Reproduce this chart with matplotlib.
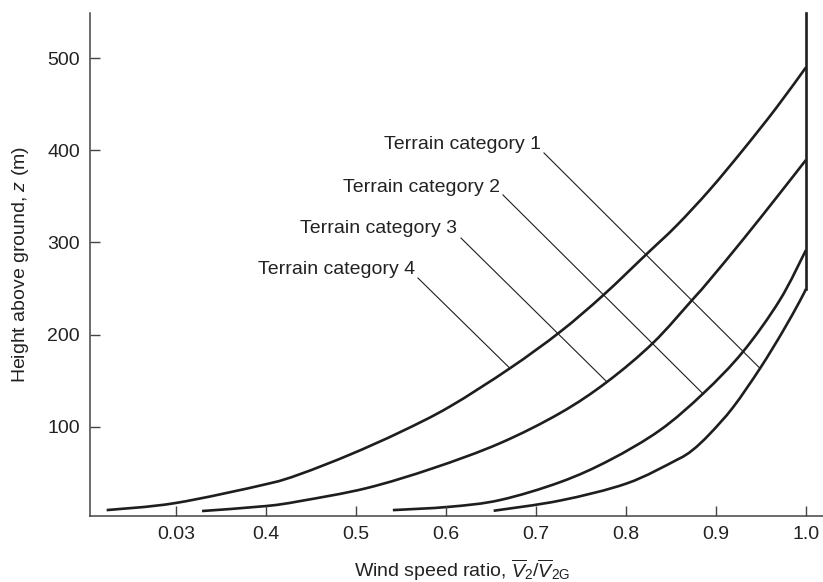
import numpy as np
import matplotlib
matplotlib.use("Agg")
import matplotlib.pyplot as plt
from matplotlib.path import Path
from matplotlib.patches import PathPatch

plt.rcParams['font.family'] = ['Liberation Sans', 'DejaVu Sans']
plt.rcParams['mathtext.fontset'] = 'custom'
plt.rcParams['mathtext.rm'] = 'Liberation Sans'
plt.rcParams['mathtext.it'] = 'Liberation Sans:italic'

# wind speed ratio (x) and height in m (z)
x_cat1 = [0.223, 0.299, 0.400, 0.438, 0.493, 0.549, 0.604, 0.671, 0.727, 0.775,
          0.823, 0.856, 0.893, 0.930, 0.967, 1.000]
z_cat1 = [9.4, 17.0, 37.5, 48.5, 69.5, 94.0, 121.6, 163.3, 203.0, 242.9,
          287.4, 318.0, 357.0, 400.3, 446.0, 490.0]

x_cat2 = [0.329, 0.400, 0.438, 0.512, 0.586, 0.660, 0.727, 0.779, 0.830, 0.874,
          0.893, 0.930, 0.968, 1.000]
z_cat2 = [8.4, 13.8, 19.2, 33.3, 55.0, 82.0, 114.8, 148.6, 190.8, 238.0,
          259.2, 303.0, 349.6, 389.5]

x_cat3 = [0.541, 0.604, 0.660, 0.727, 0.782, 0.838, 0.886, 0.930, 0.971, 1.000]
z_cat3 = [9.4, 13.0, 20.3, 39.8, 63.7, 96.3, 136.2, 181.3, 237.5, 291.7]

x_cat4 = [0.653, 0.727, 0.801, 0.856, 0.874, 0.893, 0.919, 0.949, 0.974, 0.993, 1.000]
z_cat4 = [8.7, 19.8, 38.4, 63.7, 74.6, 92.0, 121.0, 163.3, 203.0, 236.0, 249.4]

gradient_x = 1.0
z_top = 549

labels = ['Terrain category 1', 'Terrain category 2',
          'Terrain category 3', 'Terrain category 4']
label_x = [0.7056, 0.660, 0.6126, 0.5656]
label_z = [401.4, 355.1, 309.9, 265.7]
# leader lines: start (near label) -> end (on curve)
lead_x0 = [0.7089, 0.6633, 0.6167, 0.5689]
lead_z0 = [397.1, 351.5, 304.7, 261.3]
lead_x1 = [0.9489, 0.8859, 0.7786, 0.6711]
lead_z1 = [163.3, 135.4, 148.8, 163.3]

xticks = [0.3, 0.4, 0.5, 0.6, 0.7, 0.8, 0.9, 1.0]
xticklabels = ['0.03', '0.4', '0.5', '0.6', '0.7', '0.8', '0.9', '1.0']
yticks = [100, 200, 300, 400, 500]


def smooth_path(xs, zs):
    # catmull-rom through the read points, drawn as cubic beziers
    p = np.column_stack([xs, zs])
    pts = np.vstack([p[0], p, p[-1]])
    verts = [p[0]]
    codes = [Path.MOVETO]
    for i in range(1, len(pts) - 2):
        c1 = pts[i] + (pts[i + 1] - pts[i - 1]) / 6
        c2 = pts[i + 1] - (pts[i + 2] - pts[i]) / 6
        verts += [c1, c2, pts[i + 1]]
        codes += [Path.CURVE4] * 3
    return Path(verts, codes)


fig = plt.figure(figsize=(8.23, 5.82), dpi=100)
ax = fig.add_axes([0.1088, 0.1134, 0.8913, 0.8643])

ink = '#1e1e1e'
for xs, zs in [(x_cat1, z_cat1), (x_cat2, z_cat2), (x_cat3, z_cat3), (x_cat4, z_cat4)]:
    ax.add_patch(PathPatch(smooth_path(xs, zs), fill=False, edgecolor=ink,
                           lw=1.9, capstyle='butt'))

ax.plot([gradient_x, gradient_x], [z_cat4[-1], z_top], color=ink, lw=1.9, clip_on=False)

for i in range(4):
    ax.plot([lead_x0[i], lead_x1[i]], [lead_z0[i], lead_z1[i]], color=ink, lw=0.8)
    ax.text(label_x[i], label_z[i], labels[i], ha='right', va='baseline',
            fontsize=14, color='#222222')

ax.set_xlim(0.204, 1.019)
ax.set_ylim(3, z_top)
ax.set_xticks(xticks)
ax.set_xticklabels(xticklabels)
ax.set_yticks(yticks)
ax.tick_params(direction='in', length=7, width=1, color='#444444',
               labelsize=14, labelcolor='#222222', pad=7)

for s in ['top', 'right']:
    ax.spines[s].set_visible(False)
for s in ['left', 'bottom']:
    ax.spines[s].set_color('#444444')
    ax.spines[s].set_linewidth(1.1)

ax.set_xlabel(r'Wind speed ratio, $\overline{V}_2/\overline{V}_{\mathrm{2G}}$',
              fontsize=14, color='#222222')
ax.set_ylabel(r'Height above ground, $z$ (m)', fontsize=14, color='#222222')
ax.xaxis.set_label_coords(0.508, -0.082)
ax.yaxis.set_label_coords(-0.080, 0.5)

fig.savefig('out.png', dpi=100)
